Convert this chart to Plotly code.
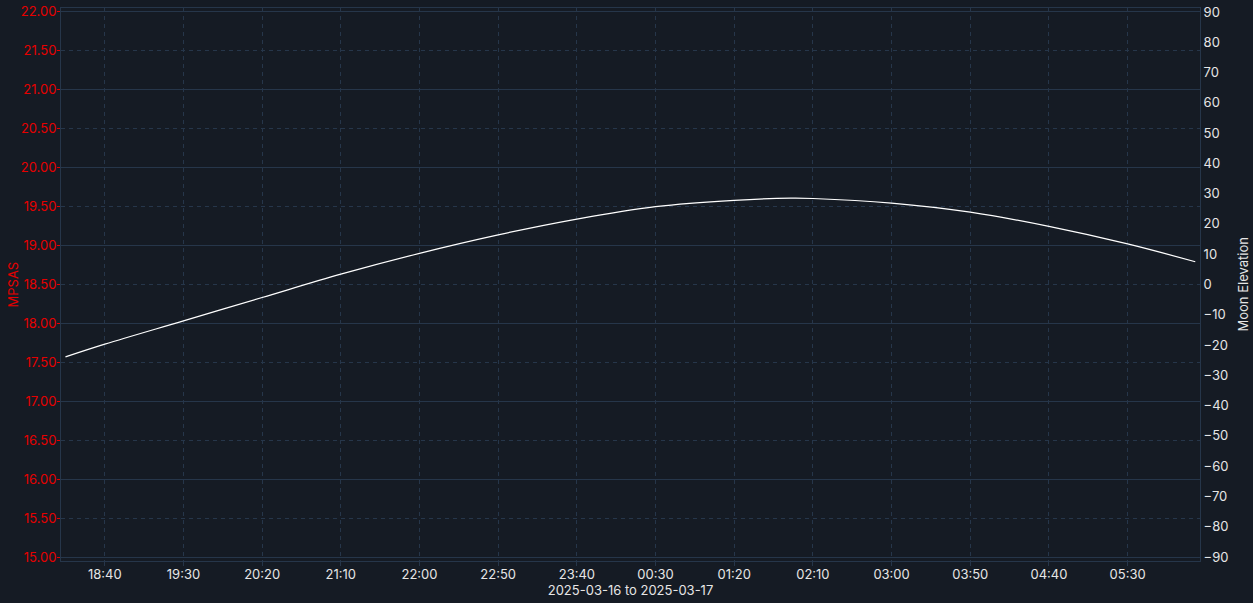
import plotly.graph_objects as go

# moon elevation (degrees)
times = ['2025-03-16 18:15', '2025-03-16 18:40', '2025-03-16 19:30', '2025-03-16 20:20',
         '2025-03-16 21:10', '2025-03-16 22:00', '2025-03-16 22:50', '2025-03-16 23:40',
         '2025-03-17 00:30', '2025-03-17 01:20', '2025-03-17 01:56', '2025-03-17 02:10',
         '2025-03-17 03:00', '2025-03-17 03:50', '2025-03-17 04:40', '2025-03-17 05:30',
         '2025-03-17 06:13']
moon_elev = [-23.9, -19.7, -12.0, -4.3, 3.4, 10.3, 16.4, 21.6,
             25.7, 27.8, 28.5, 28.4, 26.9, 23.9, 19.2, 13.4, 7.5]

# no sky brightness readings in this window, the MPSAS axis is empty
mpsas = []
mpsas_times = []

mpsas_ticks = [15 + 0.5 * i for i in range(15)]
elev_ticks = list(range(-90, 91, 10))

bg = '#151b24'
grid = '#26364a'
red = '#e60000'
fg = '#e6e6e6'
font = 'Inter, Roboto, sans-serif'

fig = go.Figure()
fig.add_trace(go.Scatter(x=mpsas_times, y=mpsas, mode='lines', yaxis='y',
                         line=dict(color=red, width=1.2),
                         showlegend=False, hoverinfo='skip'))
# extra axis only for the solid whole-number grid lines
fig.add_trace(go.Scatter(x=mpsas_times, y=mpsas, mode='lines', yaxis='y3',
                         showlegend=False, hoverinfo='skip'))
fig.add_trace(go.Scatter(x=times, y=moon_elev, mode='lines', yaxis='y2',
                         line=dict(color='#ffffff', width=1.2, shape='spline'),
                         showlegend=False, hoverinfo='skip'))

fig.update_layout(
    width=1253, height=603,
    margin=dict(l=61, r=53, t=8, b=42),
    paper_bgcolor=bg, plot_bgcolor=bg,
    font=dict(family=font, size=13, color=fg),
    xaxis=dict(
        type='date',
        range=['2025-03-16 18:12:10', '2025-03-17 06:16:00'],
        tick0='2025-03-16 18:40', dtick=50 * 60 * 1000, tickformat='%H:%M',
        showgrid=True, gridcolor=grid, griddash='4px,4px', gridwidth=1,
        ticks='outside', ticklen=4, tickcolor=grid,
        ticklabelstandoff=-3,
        showline=True, linecolor=grid, linewidth=1, mirror=True,
        zeroline=False, automargin=False,
        tickfont=dict(color=fg, size=13),
        title=dict(text='2025-03-16 to 2025-03-17', standoff=2,
                   font=dict(color=fg, size=13)),
    ),
    yaxis=dict(
        range=[14.95, 22.05],
        tickvals=mpsas_ticks, tickformat='.2f',
        showgrid=True, gridcolor=grid, griddash='4px,4px', gridwidth=1,
        ticks='outside', ticklen=3, tickcolor=red,
        ticklabelstandoff=-2,
        showline=True, linecolor=grid, linewidth=1,
        zeroline=False, automargin=False,
        tickfont=dict(color=red, size=13),
    ),
    yaxis3=dict(
        range=[14.95, 22.05], overlaying='y', side='left',
        dtick=1, showticklabels=False, ticks='',
        showgrid=True, gridcolor=grid, gridwidth=1,
        zeroline=False, automargin=False,
    ),
    yaxis2=dict(
        range=[-91.3, 91.3], overlaying='y', side='right',
        tickvals=elev_ticks,
        showgrid=False, ticks='',
        showline=True, linecolor=grid, linewidth=1,
        zeroline=False, automargin=False,
        tickfont=dict(color=fg, size=13),
    ),
    annotations=[
        dict(text='MPSAS', xref='paper', yref='paper', x=0, y=0.5,
             xanchor='center', yanchor='middle',
             xshift=-49, textangle=-90, showarrow=False,
             font=dict(color=red, size=13)),
        dict(text='Moon Elevation', xref='paper', yref='paper', x=1, y=0.5,
             xanchor='center', yanchor='middle',
             xshift=42, textangle=-90, showarrow=False,
             font=dict(color=fg, size=13)),
    ],
)

# drop the default 8px body margin so the figure fills the window
fig.write_html('out.html', config={'displayModeBar': False},
               post_script="document.body.style.margin = '0';")
